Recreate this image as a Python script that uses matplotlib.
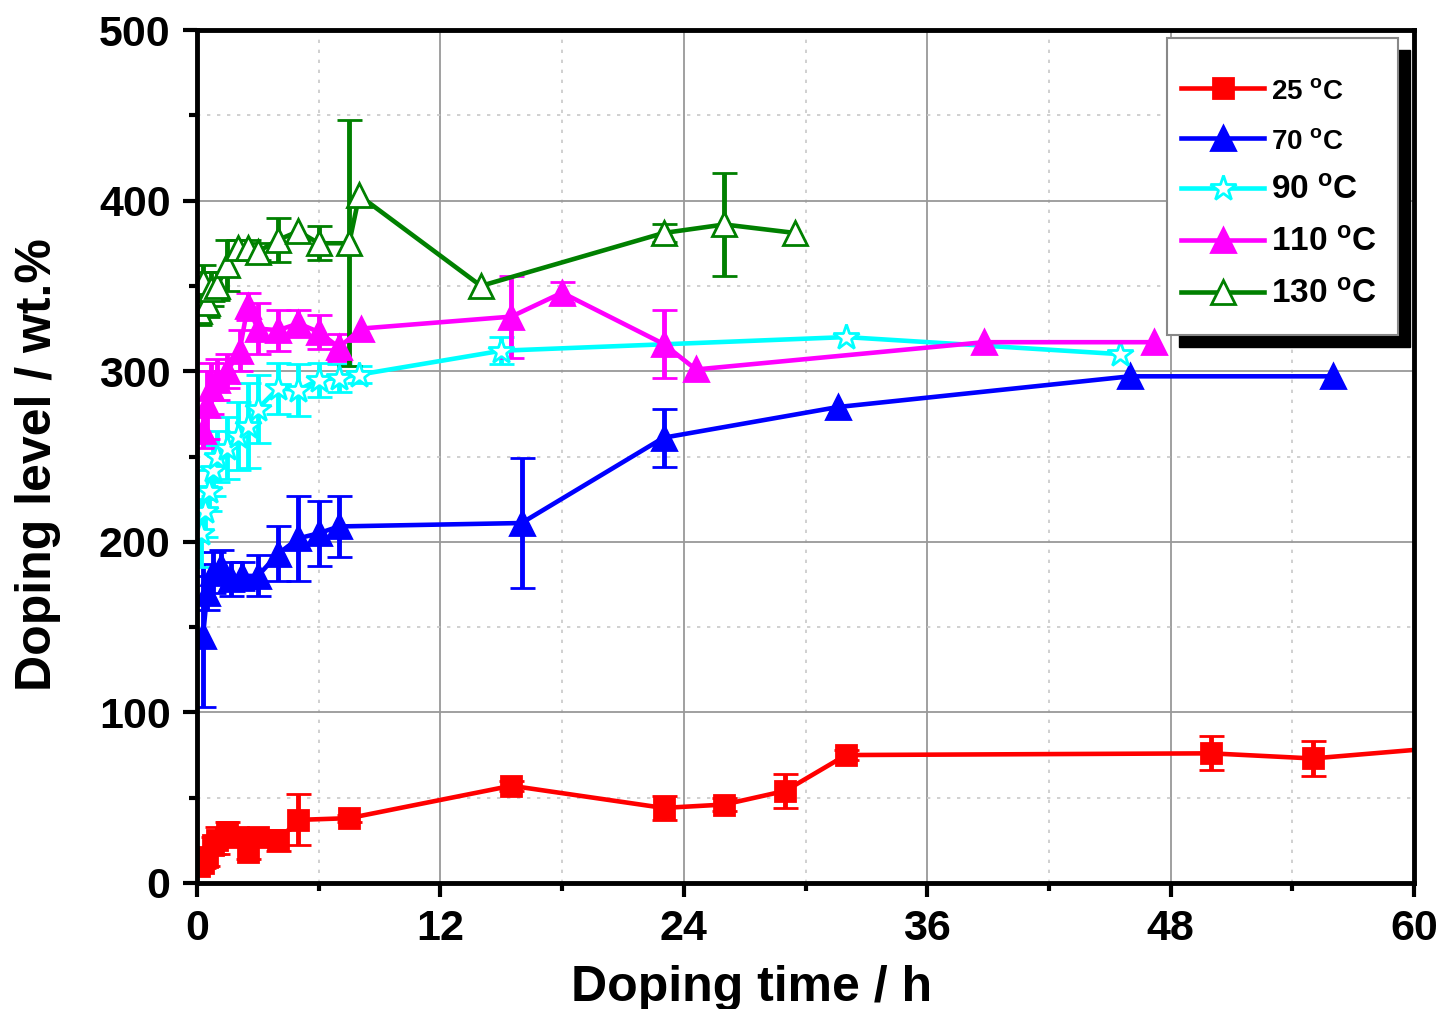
import numpy as np
import matplotlib
matplotlib.use("Agg")
import matplotlib.pyplot as plt
from matplotlib.patches import Rectangle
from matplotlib.transforms import IdentityTransform
from matplotlib.ticker import MultipleLocator

plt.rcParams['font.family'] = ['Liberation Sans', 'DejaVu Sans']
plt.rcParams['font.weight'] = 'bold'
plt.rcParams['mathtext.fontset'] = 'custom'
plt.rcParams['mathtext.rm'] = 'Liberation Sans:bold'
plt.rcParams['mathtext.bf'] = 'Liberation Sans:bold'
plt.rcParams['mathtext.it'] = 'Liberation Sans:bold'

nan = np.nan
# ---- data ----
t25 = [0.1, 0.3, 0.5, 0.8, 1.0, 1.5, 2.0, 2.5, 3.0, 4.0, 5.0, 7.5, 15.5, 23.0, 26.0, 29.0, 32.0, 50.0, 55.0, 62.0]
d25 = [10, 12, 15, 22, 25, 30, 27, 18, 27, 25, 37, 38, 57, 44, 46, 54, 75, 76, 73, 80]
e25 = [3, 3, 5, 5, 8, 6, 5, 4, 3, 6, 15, 2, 3, 7, 4, 10, 3, 10, 10, nan]

t70 = [0.3, 0.5, 0.8, 1.2, 1.7, 2.2, 3.0, 4.0, 5.0, 6.0, 7.0, 16.0, 23.0, 31.6, 46.0, 56.0]
d70 = [145, 170, 182, 185, 178, 180, 180, 193, 202, 205, 209, 211, 261, 279, 297, 297]
e70 = [42, 10, 12, 10, 10, 8, 12, 16, 25, 19, 18, 38, 17, nan, nan, nan]

t90 = [0.2, 0.4, 0.6, 0.8, 1.0, 1.5, 2.0, 2.5, 3.0, 4.0, 5.0, 6.0, 7.0, 8.0, 15.0, 32.0, 45.5]
d90 = [205, 218, 230, 242, 250, 255, 262, 268, 278, 290, 289, 295, 296, 298, 312, 320, 310]
e90 = [20, 15, 12, 15, 15, 18, 20, 25, 20, 15, 15, 10, 8, 5, 8, nan, nan]

t110 = [0.3, 0.5, 0.7, 1.0, 1.5, 2.1, 2.5, 3.0, 4.0, 5.0, 6.0, 7.0, 8.1, 15.5, 18.0, 23.0, 24.6, 38.8, 47.2]
d110 = [265, 280, 290, 295, 300, 312, 338, 325, 324, 328, 323, 314, 325, 332, 346, 316, 301, 317, 317]
e110 = [10, 20, 15, 12, 10, 12, 8, 15, 12, 8, 10, 8, nan, 24, 6, 20, nan, nan, nan]

t130 = [0.1, 0.3, 0.5, 0.7, 1.0, 1.5, 2.0, 2.5, 3.0, 4.0, 5.0, 6.0, 7.5, 8.0, 14.0, 23.0, 26.0, 29.5]
d130 = [335, 352, 340, 348, 350, 362, 372, 372, 370, 377, 382, 375, 375, 403, 350, 381, 386, 381]
e130 = [8, 10, 8, 10, 8, 15, 5, 5, 5, 13, nan, 10, 72, nan, nan, 5, 30, nan]

labels = ['25 $^{o}$C', '70 $^{o}$C', '90 $^{o}$C', '110 $^{o}$C', '130 $^{o}$C']
xticks = [0, 12, 24, 36, 48, 60]
yticks = [0, 100, 200, 300, 400, 500]

series = [
    (t25, d25, e25, '#FF0000', 's', '#FF0000', 14),
    (t70, d70, e70, '#0000FF', '^', '#0000FF', 17),
    (t90, d90, e90, '#00FFFF', '*', 'white', 19),
    (t110, d110, e110, '#FF00FF', '^', '#FF00FF', 17),
    (t130, d130, e130, '#008000', '^', 'white', 17),
]

fig = plt.figure(figsize=(14.44, 10.09), dpi=100)
ax = fig.add_axes([197/1444, 1-883/1009, (1414-197)/1444, (883-30)/1009])

handles = []
for (t, d, e, c, m, fc, ms), lab in zip(series, labels):
    h = ax.errorbar(t, d, yerr=e, color=c, lw=3.3, marker=m, ms=ms,
                    mfc=fc, mec=c, mew=2, ecolor=c, elinewidth=3.5,
                    capsize=9, capthick=4, label=lab, clip_on=True)
    handles.append(h[0])

ax.set_xlim(0, 60)
ax.set_ylim(0, 500)
ax.set_xticks(xticks)
ax.set_yticks(yticks)
ax.xaxis.set_minor_locator(MultipleLocator(6))
ax.yaxis.set_minor_locator(MultipleLocator(50))
ax.grid(True, which='major', color='#999999', lw=1.3, ls='-')
ax.grid(True, which='minor', color='#C8C8C8', lw=1.2, ls=(0, (2, 4)))
ax.set_axisbelow(True)
for s in ax.spines.values():
    s.set_linewidth(3.5)
ax.tick_params(which='major', direction='out', length=10, width=3,
               labelsize=31, top=False, right=False, pad=9)
ax.tick_params(which='minor', direction='out', length=6, width=3,
               top=False, right=False)
for lbl in ax.get_xticklabels() + ax.get_yticklabels():
    lbl.set_fontweight('bold')

ax.set_xlabel('Doping time / h', fontsize=36, fontweight='bold')
ax.set_ylabel('Doping level / wt.%', fontsize=36, fontweight='bold')
ax.xaxis.set_label_coords((752-197)/1217, -(1001-883)/853)
ax.xaxis.label.set_va('baseline')
ax.yaxis.set_label_coords(-(197-38)/1217, (883-465)/853)
ax.yaxis.label.set_va('center')

# legend frame + shadow (decoration, pixel coordinates of the figure)
H = 1009
box_x0, box_y0, box_x1, box_y1 = 1167, 38, 1398, 335
off = 12
ax.add_artist(Rectangle((box_x0 + off, H - box_y1 - off), box_x1 - box_x0, box_y1 - box_y0,
                        transform=IdentityTransform(), facecolor='black',
                        edgecolor='black', zorder=8, clip_on=False))
ax.add_artist(Rectangle((box_x0, H - box_y1), box_x1 - box_x0, box_y1 - box_y0,
                        transform=IdentityTransform(), facecolor='white',
                        edgecolor='#888888', lw=1.5, zorder=9, clip_on=False))

leg = ax.legend(handles=handles, labels=labels, loc='upper left',
                bbox_to_anchor=(1181/1444, 1-76/1009),
                bbox_transform=fig.transFigure, borderaxespad=0, borderpad=0,
                prop={'size': 24, 'weight': 'bold'}, handlelength=2.5,
                handletextpad=0.2, labelspacing=0.62, frameon=False)
for txt in leg.get_texts()[:2]:
    txt.set_fontsize(20)
leg.set_zorder(10)

fig.savefig('out.png', dpi=100)
